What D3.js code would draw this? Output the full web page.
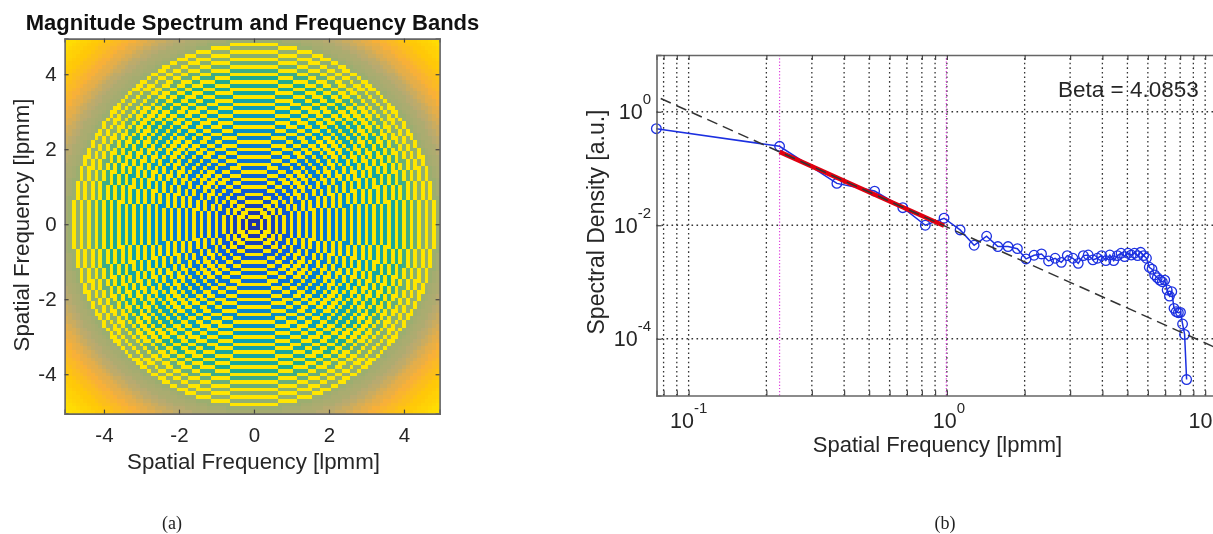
<!DOCTYPE html>
<html><head><meta charset="utf-8">
<script src="https://cdn.jsdelivr.net/npm/d3@7/dist/d3.min.js"></script>
<style>
html,body{margin:0;padding:0;background:#fff;overflow:hidden}
svg{display:block;filter:blur(0.45px)}
text{font-family:"Liberation Sans",Arial,sans-serif;fill:#222}
</style></head><body><svg id="c" width="1213" height="534"></svg>
<script>
// ---------- data ----------
const leftTitle = "Magnitude Spectrum and Frequency Bands";
const xLabel = "Spatial Frequency [lpmm]";
const rightYLabel = "Spectral Density [a.u.]";
const betaLabel = "Beta = 4.0853";
const leftTicks = [-4,-2,0,2,4];
const cellIndex = [...Array(100).keys()];
const freqStepLabel = 0.1; // one spectrum cell, lpmm
// log-magnitude colour value for each integer radius (cells) read from the map
const ringMagnitude = [.02,.02,.03,.03,.04,.05,.06,.07,.08,.09,.10,.11,.12,.13,.14,.15,.16,.17,.18,.19,.20,.21,.22,.23,.24,.25,.26,.27,.28,.29,.30,.31,.32,.34,.35,.36,.37,.38,.39,.40,.41,.43,.45,.47,.49,.50,.51,.52,.53,.54,.56,.57,.58,.60,.61,.63,.65,.67,.68,.70,.72,.74,.76,.78,.80,.82,.85,.87,.90,.93,.96,.98];
// 1 where the radius lies in a highlighted frequency band
const ringBand = [1,0,1,0,1,0,1,0,1,0,1,0,1,0,1,0,1,0,1,0,1,0,1,0,1,0,1,0,1,0,1,0,1,0,1,0,1,0,1,0,1,0,1,0,1,0,1,0,1,0,0,0,0,0,0,0,0,0,0,0,0,0,0,0,0,0,0,0,0,0,0,0];
const colorStops = [0,.1,.2,.3,.4,.5,.6,.7,.8,1];
const colorValues = ["#23289a","#0f5fd5","#0a7ad0","#0a9fb8","#20aa90","#88b070","#b8aa70","#f8b038","#ffc808","#ffe600"];

const spectrumFreq = [0.075,0.225,0.375,0.525,0.675,0.825,0.975,1.125,1.275,1.425,1.575,1.725,1.875,2.025,2.175,2.325,2.475,2.625,2.775,2.925,3.075,3.225,3.375,3.525,3.675,3.825,3.975,4.125,4.275,4.425,4.575,4.725,4.875,5.025,5.175,5.325,5.475,5.625,5.775,5.925,6.075,6.225,6.375,6.525,6.675,6.825,6.975,7.125,7.275,7.425,7.575,7.725,7.875,8.025,8.175,8.325,8.475];
const spectrumDensity = [0.503,0.246,0.0546,0.0400,0.0204,0.0100,0.0133,0.00827,0.00444,0.00640,0.00421,0.00421,0.00387,0.00255,0.00296,0.00312,0.00235,0.00262,0.00222,0.00292,0.00262,0.00213,0.00292,0.00299,0.00245,0.00262,0.00292,0.00238,0.00299,0.00238,0.00292,0.00321,0.00280,0.00321,0.00299,0.00321,0.00292,0.00334,0.00292,0.00262,0.00182,0.00168,0.00133,0.00119,0.00108,0.00101,0.00108,0.000723,0.000566,0.000675,0.000343,0.000299,0.000288,0.000292,0.000182,0.000119,0.0000191];
const fitFreq = [0.078,10.8];
const fitDensity = [1.71,0.000072];
const bandFreq = [0.225,0.975];
const bandDensity = [0.196,0.0098];
const bandEdges = [0.225,0.995];
const xGrid = [0.08,0.09,0.1,0.2,0.3,0.4,0.5,0.6,0.7,0.8,0.9,1,2,3,4,5,6,7,8,9,10];
const xMajor = [0.1,1,10];
const xMajorExp = ["-1","0",""];
const yMajor = [1e-4,1e-2,1];
const yMajorExp = ["-4","-2","0"];

// ---------- drawing ----------
const svg = d3.select("#c");
const frame = "#666";
const inkColor = "#262626";

// left panel
const L = {x0:64.6,x1:439.6,y0:413.6,y1:38.6};
const lx = d3.scaleLinear().domain([-5.05,4.95]).range([L.x0,L.x1]);
const ly = d3.scaleLinear().domain([-5.05,4.95]).range([L.y0,L.y1]);
const color = d3.scaleLinear().domain(colorStops).range(colorValues).interpolate(d3.interpolateRgb);
const cells = cellIndex.flatMap(i=>cellIndex.map(j=>{
  const ring = Math.round(Math.hypot(i-50,j-50));
  return {fx:(i-50)*freqStepLabel, fy:(j-50)*freqStepLabel, v: ringBand[ring]?1:ringMagnitude[ring]};
}));
const cw = lx(freqStepLabel)-lx(0), ch = ly(0)-ly(freqStepLabel);
svg.append("g").attr("shape-rendering","crispEdges").selectAll("rect").data(cells).join("rect")
  .attr("x",d=>lx(d.fx-freqStepLabel/2)).attr("y",d=>ly(d.fy+freqStepLabel/2))
  .attr("width",cw+.2).attr("height",ch+.2).attr("fill",d=>color(d.v));

function styleAxis(g,size){
  g.selectAll(".domain").attr("stroke",frame).attr("stroke-width",1.6);
  g.selectAll(".tick line").attr("stroke","#444").attr("stroke-width",1.2);
  g.selectAll(".tick text").attr("font-size",size).style("font-family",'"Liberation Sans",Arial,sans-serif').style("fill",inkColor);
}
const fmt = d=>String(d);
svg.append("g").attr("transform",`translate(0,${L.y0})`)
  .call(d3.axisBottom(lx).tickValues(leftTicks).tickSize(-4).tickPadding(10).tickFormat(fmt)).call(styleAxis,20.5)
  .selectAll("text").attr("dy","0.9em");
svg.append("g").attr("transform",`translate(0,${L.y1})`)
  .call(d3.axisTop(lx).tickValues(leftTicks).tickSize(-4).tickFormat("")).call(styleAxis,20);
svg.append("g").attr("transform",`translate(${L.x0},0)`)
  .call(d3.axisLeft(ly).tickValues(leftTicks).tickSize(-4).tickPadding(8).tickFormat(fmt)).call(styleAxis,20.5);
svg.append("g").attr("transform",`translate(${L.x1},0)`)
  .call(d3.axisRight(ly).tickValues(leftTicks).tickSize(-4).tickFormat("")).call(styleAxis,20);
svg.append("text").attr("x",252.5).attr("y",30).attr("text-anchor","middle").attr("font-size",22).attr("font-weight","bold").style("fill","#111").text(leftTitle);
svg.append("text").attr("x",253.5).attr("y",469).attr("text-anchor","middle").attr("font-size",22.3).style("fill",inkColor).text(xLabel);
svg.append("text").attr("transform","translate(29,225) rotate(-90)").attr("text-anchor","middle").attr("font-size",22.3).style("fill",inkColor).text(xLabel);

// right panel
const R = {x0:656.5,x1:1214,y0:395.5,y1:55};
const rx = d3.scaleLog().domain([0.0751,10.82]).range([R.x0,R.x1]);
const ry = d3.scaleLog().domain([1e-5,10]).range([R.y0,R.y1]);
const plot = svg.append("g");
plot.append("g").selectAll("line").data(xGrid).join("line")
  .attr("x1",d=>rx(d)).attr("x2",d=>rx(d)).attr("y1",R.y0).attr("y2",R.y1)
  .attr("stroke","#333").attr("stroke-width",1.3).attr("stroke-dasharray","1.6,3");
plot.append("g").selectAll("line").data(yMajor).join("line")
  .attr("x1",R.x0).attr("x2",R.x1).attr("y1",d=>ry(d)).attr("y2",d=>ry(d))
  .attr("stroke","#333").attr("stroke-width",1.3).attr("stroke-dasharray","1.6,3.4");
plot.append("g").selectAll("line").data(bandEdges).join("line")
  .attr("x1",d=>rx(d)).attr("x2",d=>rx(d)).attr("y1",R.y0).attr("y2",R.y1)
  .attr("stroke","#e040e0").attr("stroke-width",1.2).attr("stroke-dasharray","1.2,2");
svg.append("g").attr("transform",`translate(0,${R.y0})`)
  .call(d3.axisBottom(rx).tickValues(xGrid).tickSize(-5).tickFormat("")).call(styleAxis,21);
svg.append("g").attr("transform",`translate(0,${R.y1})`)
  .call(d3.axisTop(rx).tickValues(xGrid).tickSize(-5).tickFormat("")).call(styleAxis,21);
svg.append("g").attr("transform",`translate(${R.x0},0)`)
  .call(d3.axisLeft(ry).tickValues(yMajor).tickSize(-5).tickFormat("")).call(styleAxis,21);

const line = d3.line().x(d=>rx(d[0])).y(d=>ry(d[1]));
const series = d3.zip(spectrumFreq,spectrumDensity);
plot.append("path").attr("d",line(series)).attr("fill","none").attr("stroke","#1c30e0").attr("stroke-width",1.5);
plot.append("g").selectAll("circle").data(series).join("circle")
  .attr("cx",d=>rx(d[0])).attr("cy",d=>ry(d[1])).attr("r",4.8)
  .attr("fill","none").attr("stroke","#1c30e0").attr("stroke-width",1.3);
plot.append("path").attr("d",line(d3.zip(bandFreq,bandDensity))).attr("stroke","#e00010").attr("stroke-width",4.5).attr("fill","none");
plot.append("path").attr("d",line(d3.zip(fitFreq,fitDensity))).attr("stroke","#333").attr("stroke-width",1.5).attr("fill","none").attr("stroke-dasharray","11,6");

function powerLabel(x,y,exp,anchor){
  const t = svg.append("text").attr("x",x).attr("y",y).attr("text-anchor",anchor).attr("font-size",21.5).style("fill",inkColor);
  t.append("tspan").text("10");
  if(exp) t.append("tspan").attr("dy",-15).attr("font-size",15).text(exp);
}
xMajor.forEach((d,i)=>{
  if(xMajorExp[i]) powerLabel(rx(d)+(xMajorExp[i]==="-1"?0:2),428,xMajorExp[i],"middle");
  else powerLabel(1212.5,428,xMajorExp[i],"end");
});
yMajor.forEach((d,i)=>powerLabel(651,ry(d)+7.7,yMajorExp[i],"end"));
svg.append("text").attr("x",937.5).attr("y",452).attr("text-anchor","middle").attr("font-size",22).style("fill",inkColor).text(xLabel);
svg.append("text").attr("transform","translate(604,222) rotate(-90)").attr("text-anchor","middle").attr("font-size",23).style("fill",inkColor).text(rightYLabel);
svg.append("text").attr("x",1058).attr("y",97).attr("font-size",22.5).style("fill",inkColor).text(betaLabel);

svg.append("text").attr("x",172).attr("y",529).attr("text-anchor","middle").style("font-family",'"Liberation Serif",serif').attr("font-size",18).text("(a)");
svg.append("text").attr("x",945).attr("y",529).attr("text-anchor","middle").style("font-family",'"Liberation Serif",serif').attr("font-size",18).text("(b)");
</script></body></html>
